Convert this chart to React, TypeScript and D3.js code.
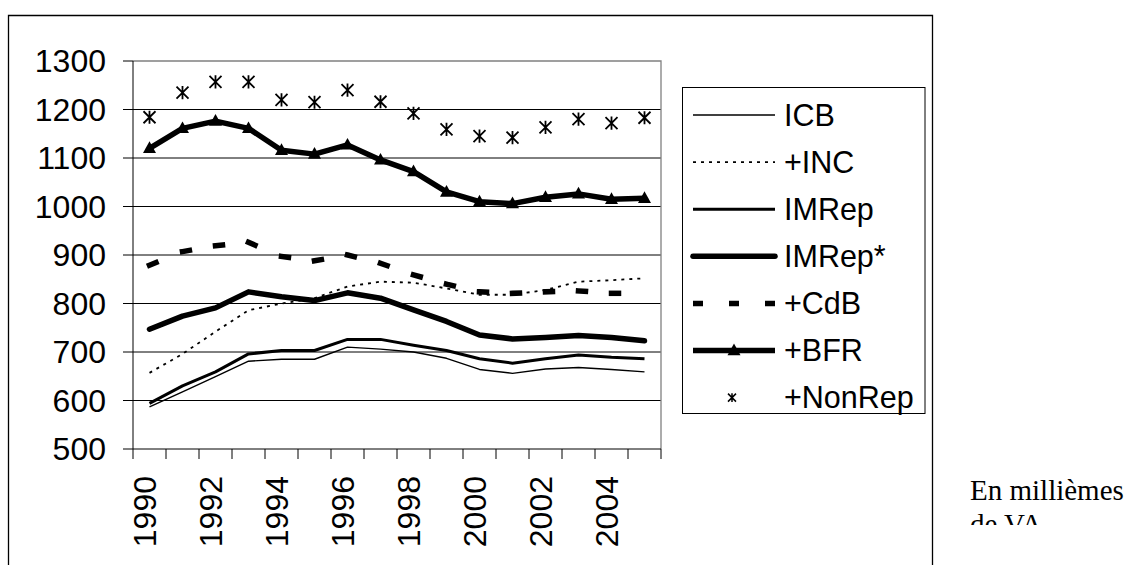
import React from "react";
import * as d3 from "d3";

const years = ["1990","1991","1992","1993","1994","1995","1996","1997","1998","1999","2000","2001","2002","2003","2004","2005"];
const yearLabels = ["1990","1992","1994","1996","1998","2000","2002","2004"];
const yTicks = [500, 600, 700, 800, 900, 1000, 1100, 1200, 1300];

const ICB = [587, 618, 649, 681, 685, 685, 710, 706, 700, 687, 664, 656, 665, 668, 664, 659];
const INC = [657, 696, 742, 786, 800, 811, 835, 845, 843, 831, 818, 818, 828, 845, 848, 852];
const IMRep = [594, 630, 659, 696, 703, 703, 726, 726, 714, 703, 686, 677, 686, 694, 689, 686];
const IMRepStar = [747, 774, 791, 824, 814, 806, 822, 811, 787, 763, 735, 727, 730, 734, 730, 723];
const CdB = [879, 907, 919, 926, 897, 888, 900, 883, 859, 840, 824, 821, 824, 826, 821, 821];
const BFR = [1120, 1161, 1176, 1161, 1116, 1108, 1127, 1096, 1072, 1030, 1010, 1006, 1019, 1026, 1015, 1017];
const NonRep = [1184, 1235, 1257, 1257, 1220, 1215, 1240, 1216, 1192, 1159, 1145, 1142, 1163, 1180, 1172, 1183];

const seriesNames = ["ICB", "+INC", "IMRep", "IMRep*", "+CdB", "+BFR", "+NonRep"];

type Style = { width: number; dash?: string; marker?: "tri" | "star"; line: boolean; cap?: string; perSeg?: boolean };
const styles: Style[] = [
  { width: 1.4, line: true },
  { width: 1.8, dash: "3,5", line: true },
  { width: 3, line: true },
  { width: 5.5, line: true, cap: "round" },
  { width: 5.5, dash: "7,60", line: true, cap: "square", perSeg: true },
  { width: 5.5, line: true, marker: "tri" },
  { width: 1.5, line: false, marker: "star" },
];
const seriesData = [ICB, INC, IMRep, IMRepStar, CdB, BFR, NonRep];

const FONT = "'Liberation Sans', Arial, sans-serif";

function Triangle({ x, y, s }: { x: number; y: number; s: number }) {
  const h = s * 0.9;
  return <path d={`M${x},${y - h * 0.6} L${x + s / 2},${y + h * 0.4} L${x - s / 2},${y + h * 0.4} Z`} fill="#000" />;
}

function Star({ x, y, s, w }: { x: number; y: number; s: number; w: number }) {
  const r = s / 2;
  return (
    <path
      d={`M${x - r},${y - r} L${x + r},${y + r} M${x - r},${y + r} L${x + r},${y - r} M${x},${y - r * 1.1} L${x},${y + r * 1.1}`}
      stroke="#000"
      strokeWidth={w}
      fill="none"
    />
  );
}

export default function App() {
  const left = 133, right = 661, top = 61, bottom = 449;
  const x = d3.scaleBand<string>().domain(years).range([left, right]);
  const y = d3.scaleLinear().domain([500, 1300]).range([bottom, top]);
  const cx = (yr: string) => (x(yr) as number) + x.bandwidth() / 2;
  const line = d3
    .line<number>()
    .x((_, i) => cx(years[i]))
    .y((d) => y(d));
  const segLine = d3
    .line<[string, number]>()
    .x((d) => cx(d[0]))
    .y((d) => y(d[1]));

  const legX1 = 693, legX2 = 775, legText = 784;
  const legRows = seriesNames.map((_, i) => 115 + i * 47.1);

  return (
    <svg width={1125} height={565} style={{ position: "absolute", left: 0, top: 0, background: "#fff" }}>
      <defs>
        <clipPath id="noteclip">
          <rect x={940} y={460} width={185} height={65} />
        </clipPath>
      </defs>
      {/* outer border */}
      <path d="M8.5,570 L8.5,15.5 L932.5,15.5 L932.5,570" fill="none" stroke="#000" strokeWidth={1.3} />

      {/* grid lines */}
      {yTicks.filter((t) => t > 500 && t < 1300).map((t) => (
        <line key={t} x1={left} x2={right} y1={y(t)} y2={y(t)} stroke="#000" strokeWidth={1} />
      ))}
      {/* plot border top/right */}
      <path d={`M${left},${top} L${right},${top} L${right},${bottom}`} fill="none" stroke="#808080" strokeWidth={1.3} />

      {/* y axis */}
      <line x1={left} x2={left} y1={top} y2={bottom} stroke="#000" strokeWidth={1} />
      {yTicks.map((t) => (
        <g key={t}>
          <line x1={left - 10} x2={left} y1={y(t)} y2={y(t)} stroke="#000" strokeWidth={1} />
          <text x={106} y={y(t)} dy="0.35em" textAnchor="end" fontFamily={FONT} fontSize={32} fill="#000">
            {t}
          </text>
        </g>
      ))}

      {/* x axis */}
      <line x1={left} x2={right} y1={bottom} y2={bottom} stroke="#000" strokeWidth={1} />
      {years.map((yr) => (
        <line key={yr} x1={x(yr) as number} x2={x(yr) as number} y1={bottom} y2={bottom + 10} stroke="#000" strokeWidth={1} />
      ))}
      <line x1={right} x2={right} y1={bottom} y2={bottom + 10} stroke="#000" strokeWidth={1} />
      {yearLabels.map((yr) => (
        <text
          key={yr}
          transform={`translate(${cx(yr) - 5},476) rotate(-90)`}
          dy="0.35em"
          textAnchor="end"
          fontFamily={FONT}
          fontSize={32}
          fill="#000"
        >
          {yr}
        </text>
      ))}

      {/* series */}
      {seriesData.map((data, si) => {
        const st = styles[si];
        const pts: [string, number][] = data.map((v, i) => [years[i], v]);
        return (
          <g key={si}>
            {st.line && !st.perSeg && (
              <path
                d={line(data) || ""}
                fill="none"
                stroke="#000"
                strokeWidth={st.width}
                strokeDasharray={st.dash}
                strokeLinejoin="round"
                strokeLinecap={(st.cap as any) || "butt"}
              />
            )}
            {st.line && st.perSeg &&
              d3.pairs(pts).map((seg, k) => (
                <path
                  key={k}
                  d={segLine(seg) || ""}
                  fill="none"
                  stroke="#000"
                  strokeWidth={st.width}
                  strokeDasharray={st.dash}
                  strokeLinecap={(st.cap as any) || "butt"}
                />
              ))}
            {st.marker === "tri" && data.map((v, i) => <Triangle key={i} x={cx(years[i])} y={y(v)} s={13} />)}
            {st.marker === "star" && data.map((v, i) => <Star key={i} x={cx(years[i])} y={y(v)} s={12} w={1.8} />)}
          </g>
        );
      })}

      {/* legend */}
      <rect x={682.5} y={87.5} width={242.5} height={326} fill="#fff" stroke="#000" strokeWidth={1} />
      {seriesNames.map((name, i) => {
        const st = styles[i];
        const ry = legRows[i];
        return (
          <g key={name}>
            {st.line && (
              <line
                x1={legX1}
                x2={legX2}
                y1={ry}
                y2={ry}
                stroke="#000"
                strokeWidth={st.width}
                strokeDasharray={st.perSeg ? "10,26" : st.dash}
                strokeLinecap={st.perSeg ? "butt" : (st.cap as any) || "butt"}
              />
            )}
            {st.marker === "tri" && <Triangle x={(legX1 + legX2) / 2} y={ry} s={13} />}
            {st.marker === "star" && <Star x={(legX1 + legX2) / 2 - 2} y={ry} s={8} w={1.5} />}
            <text x={legText} y={ry} dy="0.35em" fontFamily={FONT} fontSize={30.5} fill="#000">
              {name}
            </text>
          </g>
        );
      })}

      {/* note */}
      <g clipPath="url(#noteclip)">
        <text x={970} y={500} fontFamily="'Liberation Serif', 'Times New Roman', serif" fontSize={29} fill="#000">
          En millièmes
        </text>
        <text x={970} y={534} fontFamily="'Liberation Serif', 'Times New Roman', serif" fontSize={29} fill="#000">
          de VA
        </text>
      </g>
    </svg>
  );
}
